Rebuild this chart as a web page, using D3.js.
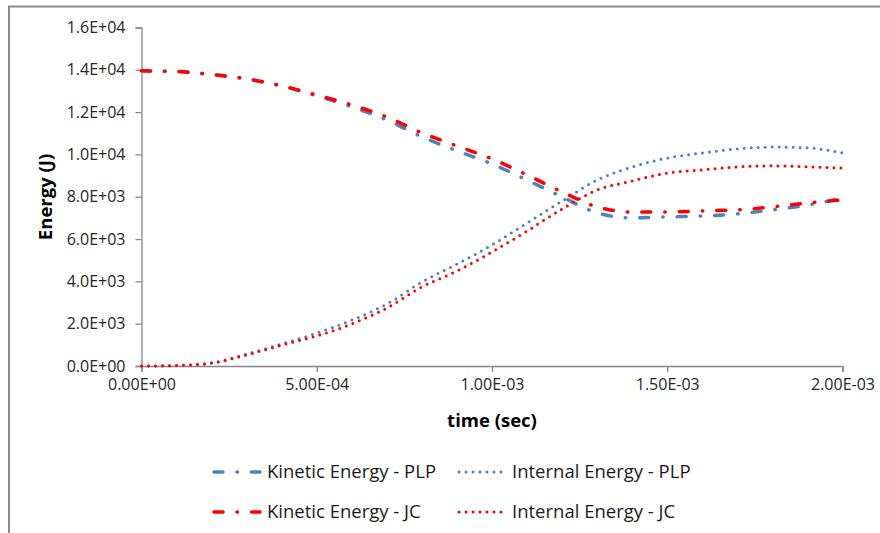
<!DOCTYPE html>
<html>
<head>
<meta charset="utf-8">
<script src="https://cdn.jsdelivr.net/npm/d3@7"></script>
<style>
  body { margin: 0; background: #fff; }
  svg text { font-family: "Open Sans", Lato, sans-serif; }
</style>
</head>
<body>
<svg id="chart" width="880" height="533"></svg>
<script>
// time in seconds, one sample every 1e-4 s
const times = d3.range(0, 21).map(k => k * 1e-4);

const kineticPLP = [13950, 13920, 13780, 13570, 13240, 12770, 12250, 11630, 10830, 10170, 9550, 8790, 7990, 7240, 7000, 7050, 7090, 7190, 7380, 7610, 7940];
const internalPLP = [0, 24, 142, 567, 1040, 1560, 2170, 2930, 3970, 4820, 5720, 6760, 7800, 8790, 9410, 9830, 10070, 10260, 10350, 10310, 10070];
const kineticJC = [13950, 13920, 13780, 13570, 13240, 12810, 12340, 11770, 11020, 10400, 9790, 9030, 8230, 7520, 7280, 7280, 7330, 7380, 7520, 7710, 7850];
const internalJC = [0, 24, 142, 520, 990, 1420, 1990, 2740, 3740, 4490, 5390, 6380, 7420, 8320, 8750, 9120, 9270, 9410, 9460, 9410, 9360];

const xTicks = [0, 5e-4, 1e-3, 1.5e-3, 2e-3];
const xTickLabels = ["0.00E+00", "5.00E-04", "1.00E-03", "1.50E-03", "2.00E-03"];
const yTicks = [0, 2000, 4000, 6000, 8000, 10000, 12000, 14000, 16000];
const yTickLabels = ["0.0E+00", "2.0E+03", "4.0E+03", "6.0E+03", "8.0E+03", "1.0E+04", "1.2E+04", "1.4E+04", "1.6E+04"];

const BLUE = "#4f81bd", RED = "#ff0000";
const dashDot = "9,14,0.5,14";
const dotted = "0,7";

const series = [
  { name: "Kinetic Energy - PLP", values: kineticPLP, color: BLUE, dash: dashDot, w: 3.5 },
  { name: "Internal Energy - PLP", values: internalPLP, color: BLUE, dash: dotted, w: 3 },
  { name: "Kinetic Energy - JC", values: kineticJC, color: RED, dash: dashDot, w: 3.5 },
  { name: "Internal Energy - JC", values: internalJC, color: RED, dash: dotted, w: 3 }
];

const svg = d3.select("#chart");

// outer chart border (only top/left edges visible in the crop)
svg.append("rect")
  .attr("x", 9).attr("y", 6.5)
  .attr("width", 1000).attr("height", 1000)
  .attr("fill", "none")
  .attr("stroke", "#8a8a8a")
  .attr("stroke-width", 2);

const x = d3.scaleLinear().domain([0, 2e-3]).range([141.5, 842.5]);
const y = d3.scaleLinear().domain([0, 16000]).range([366, 27.5]);

const axisColor = "#868686";

const xAxis = svg.append("g")
  .attr("transform", `translate(0,${y(0)})`)
  .call(d3.axisBottom(x).tickValues(xTicks).tickSize(6).tickPadding(4)
    .tickFormat((d, i) => xTickLabels[i]));

const yAxis = svg.append("g")
  .attr("transform", `translate(${x(0)},0)`)
  .call(d3.axisLeft(y).tickValues(yTicks).tickSize(6).tickPadding(10)
    .tickFormat((d, i) => yTickLabels[i]));

[xAxis, yAxis].forEach(g => {
  g.select(".domain").attr("stroke", axisColor).attr("stroke-width", 1.3);
  g.selectAll(".tick line").attr("stroke", axisColor).attr("stroke-width", 1.3);
  g.selectAll(".tick text")
    .attr("fill", "#262626")
    .style("font-size", "16px")
    .style("font-family", "'Open Sans', sans-serif");
});
xAxis.selectAll(".tick text").attr("dy", "0.85em");

// axis titles
svg.append("text")
  .attr("x", 492).attr("y", 427)
  .attr("text-anchor", "middle")
  .style("font-size", "18.5px").style("font-weight", "bold")
  .text("time (sec)");

svg.append("text")
  .attr("transform", "translate(52,197) rotate(-90)")
  .attr("text-anchor", "middle")
  .style("font-size", "18.5px").style("font-weight", "bold")
  .text("Energy (J)");

const line = d3.line()
  .x((d, i) => x(times[i]))
  .y(d => y(d))
  .curve(d3.curveMonotoneX);

svg.append("g").selectAll("path")
  .data(series)
  .join("path")
  .attr("d", d => line(d.values))
  .attr("fill", "none")
  .attr("stroke", d => d.color)
  .attr("stroke-width", d => d.w)
  .attr("stroke-dasharray", d => d.dash)
  .attr("stroke-linecap", "round");

// legend, 2 x 2
const legendPos = [
  { lx: 212, ty: 472 }, { lx: 458, ty: 472 },
  { lx: 212, ty: 512 }, { lx: 458, ty: 512 }
];

const legend = svg.append("g").selectAll("g")
  .data(series)
  .join("g")
  .attr("transform", (d, i) => `translate(${legendPos[i].lx},${legendPos[i].ty})`);

legend.append("line")
  .attr("x1", d => d.dash === dashDot ? 2 : 1)
  .attr("x2", d => d.dash === dashDot ? 48 : 46)
  .attr("y1", 0).attr("y2", 0)
  .attr("stroke", d => d.color)
  .attr("stroke-width", d => d.w)
  .attr("stroke-dasharray", d => d.dash === dashDot ? "9,14,0.5,14" : "0,7")
  .attr("stroke-linecap", "round");

legend.append("text")
  .attr("x", d => d.dash === dashDot ? 55 : 54)
  .attr("y", 0)
  .attr("dy", "0.35em")
  .attr("fill", "#1a1a1a")
  .style("font-size", "18.5px")
  .text(d => d.name);
</script>
</body>
</html>
